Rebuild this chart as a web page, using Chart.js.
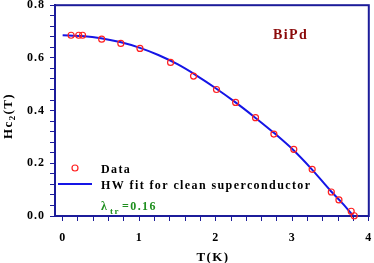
<!DOCTYPE html>
<html>
<head>
<meta charset="utf-8">
<script src="https://cdn.jsdelivr.net/npm/chart.js@4.4.0/dist/chart.umd.min.js"></script>
<style>
  html, body { margin: 0; padding: 0; background: #fff; }
  #wrap { width: 374px; height: 263px; position: relative; }
</style>
</head>
<body>
<div id="wrap"><canvas id="hc2Chart"></canvas></div>
<script>
// measured Hc2 points (T in K, Hc2 in T)
const tempData = [0.11, 0.21, 0.26, 0.51, 0.76, 1.01, 1.41, 1.71, 2.01, 2.26, 2.52, 2.76, 3.02, 3.26, 3.51, 3.61, 3.77, 3.81];
const hc2Data  = [0.686, 0.686, 0.686, 0.671, 0.655, 0.636, 0.583, 0.531, 0.480, 0.431, 0.373, 0.311, 0.253, 0.177, 0.091, 0.061, 0.018, 0.001];

// HW fit curve
const fitTemp = [0, 0.25, 0.5, 0.75, 1.0, 1.25, 1.5, 1.75, 2.0, 2.25, 2.5, 2.75, 3.0, 3.25, 3.5, 3.65, 3.8];
const fitHc2  = [0.686, 0.683, 0.675, 0.660, 0.639, 0.611, 0.576, 0.533, 0.485, 0.433, 0.377, 0.318, 0.254, 0.179, 0.096, 0.050, 0.0];

const xTickLabels = [0, 1, 2, 3, 4];
const yTickLabels = [0.0, 0.2, 0.4, 0.6, 0.8];
const xMinorStep = 0.2;
const yMinorStep = 0.04;

const NAVY = '#1c1c9a';
const FONT = "'Liberation Serif', 'Times New Roman', serif";

const minorTicks = (lo, hi, step) => {
  const out = [];
  const n = Math.round((hi - lo) / step);
  for (let i = 0; i <= n; i++) out.push(Math.round((lo + i * step) * 1000) / 1000);
  return out;
};
const xTickValues = minorTicks(0, 4, xMinorStep);
const yTickValues = minorTicks(0, 0.8, yMinorStep);

const isMajor = (list, v) => list.some(m => Math.abs(m - v) < 1e-6);

const extras = {
  id: 'extras',
  beforeDraw(chart) {
    chart.ctx.letterSpacing = '1px';
  },
  beforeDatasetsDraw(chart) {
    const { ctx, chartArea: a } = chart;
    ctx.save();
    ctx.strokeStyle = NAVY;
    ctx.lineWidth = 2;
    ctx.strokeRect(a.left, a.top, a.right - a.left, a.bottom - a.top);
    ctx.restore();
  },
  afterDraw(chart) {
    const ctx = chart.ctx;
    ctx.save();
    ctx.letterSpacing = '1.4px';
    ctx.textBaseline = 'alphabetic';
    ctx.textAlign = 'left';

    // y title: Hc2(T), rotated
    ctx.save();
    ctx.translate(12, 116);
    ctx.rotate(-Math.PI / 2);
    ctx.fillStyle = '#000';
    const big = 'bold 13px ' + FONT, small = 'bold 9px ' + FONT;
    ctx.font = big; const w1 = ctx.measureText('Hc').width;
    ctx.font = small; const w2 = ctx.measureText('2').width;
    ctx.font = big; const w3 = ctx.measureText('(T)').width;
    let x0 = -(w1 + w2 + w3) / 2;
    ctx.font = big; ctx.fillText('Hc', x0, 0);
    ctx.font = small; ctx.fillText('2', x0 + w1, 3);
    ctx.font = big; ctx.fillText('(T)', x0 + w1 + w2, 0);
    ctx.restore();

    // x title
    ctx.font = 'bold 13px ' + FONT;
    ctx.fillStyle = '#000';
    ctx.textAlign = 'center';
    ctx.fillText('T(K)', 213, 261);
    ctx.textAlign = 'left';

    // BiPd label
    ctx.font = 'bold 14px ' + FONT;
    ctx.fillStyle = '#8b0a0a';
    ctx.fillText('BiPd', 273, 39);

    // legend
    ctx.strokeStyle = '#ff2020';
    ctx.lineWidth = 1.2;
    ctx.beginPath(); ctx.arc(75, 168, 3, 0, Math.PI * 2); ctx.stroke();
    ctx.strokeStyle = '#1515e6';
    ctx.lineWidth = 2;
    ctx.beginPath(); ctx.moveTo(58, 184); ctx.lineTo(92, 184); ctx.stroke();
    ctx.font = 'bold 12px ' + FONT;
    ctx.fillStyle = '#000';
    ctx.fillText('Data', 101, 173);
    ctx.fillText('HW fit for clean superconductor', 101, 189);

    // lambda_tr
    ctx.fillStyle = '#1f8f1f';
    ctx.font = 'bold 12px ' + FONT;
    ctx.fillText('\u03bb', 101, 210);
    ctx.font = 'bold 9px ' + FONT;
    ctx.fillText('tr', 110, 214);
    ctx.font = 'bold 12px ' + FONT;
    ctx.fillText('=0.16', 122, 210);
    ctx.restore();
  }
};

const ctx = document.getElementById('hc2Chart').getContext('2d');
new Chart(ctx, {
  type: 'scatter',
  data: {
    datasets: [
      {
        label: 'HW fit for clean superconductor',
        data: fitTemp.map((t, i) => ({ x: t, y: fitHc2[i] })),
        showLine: true,
        borderColor: '#1515e6',
        borderWidth: 2,
        pointRadius: 0,
        cubicInterpolationMode: 'monotone',
        order: 2
      },
      {
        label: 'Data',
        data: tempData.map((t, i) => ({ x: t, y: hc2Data[i] })),
        showLine: false,
        pointStyle: 'circle',
        pointRadius: 3,
        pointBorderWidth: 1.2,
        borderColor: '#ff2020',
        backgroundColor: 'rgba(0,0,0,0)',
        clip: false,
        order: 1
      }
    ]
  },
  options: {
    responsive: true,
    maintainAspectRatio: false,
    animation: false,
    layout: { padding: { top: 5, right: 4, left: 0, bottom: 0 } },
    plugins: { legend: { display: false }, tooltip: { enabled: false } },
    scales: {
      x: {
        type: 'linear',
        min: -0.1,
        max: 4,
        afterBuildTicks: s => { s.ticks = xTickValues.map(v => ({ value: v })); },
        afterFit: s => { s.height = 47; s.paddingLeft = 0; s.paddingRight = 0; },
        grid: { drawOnChartArea: false, drawTicks: true, tickLength: 5, color: NAVY, lineWidth: 1 },
        border: { display: true, color: NAVY, width: 2 },
        ticks: {
          autoSkip: false,
          maxRotation: 0,
          padding: 10,
          color: '#000',
          font: { family: FONT, size: 12, weight: 'bold' },
          callback: v => isMajor(xTickLabels, v) ? String(Math.round(v)) : ''
        }
      },
      y: {
        type: 'linear',
        min: 0,
        max: 0.8,
        afterBuildTicks: s => { s.ticks = yTickValues.map(v => ({ value: v })); },
        afterFit: s => { s.width = 55; s.paddingTop = 0; s.paddingBottom = 0; },
        grid: { drawOnChartArea: false, drawTicks: true, tickLength: 5, color: NAVY, lineWidth: 1 },
        border: { display: true, color: NAVY, width: 2 },
        ticks: {
          autoSkip: false,
          padding: 5,
          color: '#000',
          font: { family: FONT, size: 12, weight: 'bold' },
          callback: v => isMajor(yTickLabels, v) ? v.toFixed(1) : ''
        }
      }
    }
  },
  plugins: [extras]
});
</script>
</body>
</html>
